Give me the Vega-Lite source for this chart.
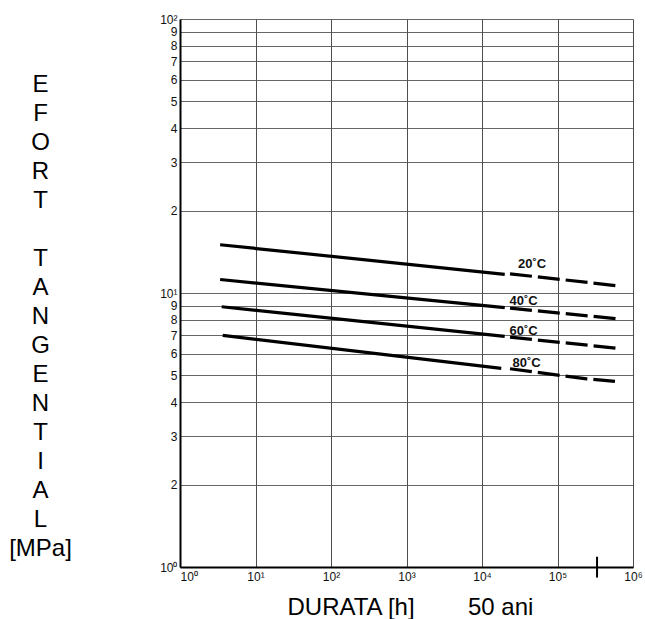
{
  "$schema": "https://vega.github.io/schema/vega-lite/v6.json",
  "width": 453,
  "height": 548,
  "autosize": "none",
  "padding": {"left": 180, "top": 19, "right": 12, "bottom": 52},
  "background": "white",
  "config": {
    "view": {"stroke": null},
    "font": "Liberation Sans"
  },
  "datasets": {
    "curves": [
      {"t": "20", "seg": "s", "x": 3.4, "y": 15.0},
      {"t": "20", "seg": "s", "x": 20000, "y": 11.7},
      {"t": "20", "seg": "d", "x": 23500, "y": 11.75},
      {"t": "20", "seg": "d", "x": 670000, "y": 10.6},
      {"t": "40", "seg": "s", "x": 3.4, "y": 11.2},
      {"t": "40", "seg": "s", "x": 20000, "y": 8.85},
      {"t": "40", "seg": "d", "x": 23500, "y": 8.8},
      {"t": "40", "seg": "d", "x": 660000, "y": 8.04},
      {"t": "60", "seg": "s", "x": 3.57, "y": 8.91},
      {"t": "60", "seg": "s", "x": 20000, "y": 6.95},
      {"t": "60", "seg": "d", "x": 23500, "y": 6.9},
      {"t": "60", "seg": "d", "x": 640000, "y": 6.28},
      {"t": "80", "seg": "s", "x": 3.68, "y": 7.0},
      {"t": "80", "seg": "s", "x": 18000, "y": 5.31},
      {"t": "80", "seg": "d", "x": 23500, "y": 5.29},
      {"t": "80", "seg": "d", "x": 244000, "y": 4.86},
      {"t": "80", "seg": "d", "x": 577000, "y": 4.76}
    ],
    "labels": [
      {"label": "20˚C", "x": 46000, "y": 12.8},
      {"label": "40˚C", "x": 35500, "y": 9.37},
      {"label": "60˚C", "x": 35500, "y": 7.28},
      {"label": "80˚C", "x": 39000, "y": 5.57}
    ],
    "marker": [
      {"x": 334000, "y": 0.915, "y2": 1.09}
    ]
  },
  "encoding": {
    "x": {
      "field": "x",
      "type": "quantitative",
      "scale": {"type": "log", "domain": [1, 1000000], "nice": false},
      "axis": {
        "values": [1, 10, 100, 1000, 10000, 100000, 1000000],
        "labelExpr": "'10' + ['⁰','¹','²','³','⁴','⁵','⁶'][round(log(datum.value)/LN10)]",
        "labelFont": "Liberation Sans",
        "labelFontSize": 12,
        "labelColor": "#111",
        "labelPadding": 4,
        "labelAlign": {"condition": {"test": "datum.value == 1", "value": "left"}, "value": "center"},
        "labelFlush": false,
        "labelOverlap": false,
        "ticks": false,
        "domainColor": "#000",
        "domainWidth": 2,
        "grid": true,
        "gridColor": "#3a3a3a",
        "gridWidth": 0.9,
        "title": "DURATA [h]\u00a0\u00a0\u00a0\u00a0\u00a0\u00a0\u00a0\u00a050 ani",
        "titleFont": "Liberation Sans",
        "titleFontSize": 24,
        "titleFontWeight": "normal",
        "titleColor": "#000",
        "titleAlign": "left",
        "titleAnchor": "start",
        "titleBaseline": "alphabetic",
        "titleX": 107,
        "titleY": 47
      }
    },
    "y": {
      "field": "y",
      "type": "quantitative",
      "scale": {"type": "log", "domain": [1, 100], "nice": false},
      "axis": {
        "values": [1, 2, 3, 4, 5, 6, 7, 8, 9, 10, 20, 30, 40, 50, 60, 70, 80, 90, 100],
        "labelExpr": "datum.value == 1 ? '10⁰' : datum.value == 10 ? '10¹' : datum.value == 100 ? '10²' : datum.value < 10 ? format(datum.value, 'd') : format(datum.value / 10, 'd')",
        "labelFont": "Liberation Sans",
        "labelFontSize": 12,
        "labelColor": "#111",
        "labelPadding": 3,
        "labelOverlap": false,
        "labelFlush": false,
        "ticks": false,
        "domainColor": "#000",
        "domainWidth": 2,
        "grid": true,
        "gridColor": "#555",
        "gridWidth": 0.9,
        "title": ["E", "F", "O", "R", "T", "\u200b", "T", "A", "N", "G", "E", "N", "T", "I", "A", "L", "[MPa]"],
        "titleFont": "Liberation Sans",
        "titleFontSize": 24,
        "titleFontWeight": "normal",
        "titleColor": "#000",
        "titleAngle": 0,
        "titleAlign": "center",
        "titleBaseline": "top",
        "titleLineHeight": 29,
        "titleX": -140,
        "titleY": 53
      }
    }
  },
  "layer": [
    {
      "data": {"name": "curves"},
      "transform": [{"filter": "datum.seg == 's'"}],
      "mark": {"type": "line", "color": "#000", "strokeWidth": 3.2, "clip": false},
      "encoding": {"detail": {"field": "t"}, "order": {"field": "x", "type": "quantitative"}}
    },
    {
      "data": {"name": "curves"},
      "transform": [{"filter": "datum.seg == 'd'"}],
      "mark": {"type": "line", "color": "#000", "strokeWidth": 3.2, "strokeDash": [22, 6]},
      "encoding": {"detail": {"field": "t"}, "order": {"field": "x", "type": "quantitative"}}
    },
    {
      "data": {"name": "labels"},
      "mark": {"type": "text", "font": "Liberation Sans", "fontWeight": "bold", "fontSize": 13, "color": "#111", "align": "center", "baseline": "middle"},
      "encoding": {"text": {"field": "label"}}
    },
    {
      "data": {"name": "marker"},
      "mark": {"type": "rule", "color": "#000", "strokeWidth": 2},
      "encoding": {"y2": {"field": "y2"}}
    }
  ]
}
